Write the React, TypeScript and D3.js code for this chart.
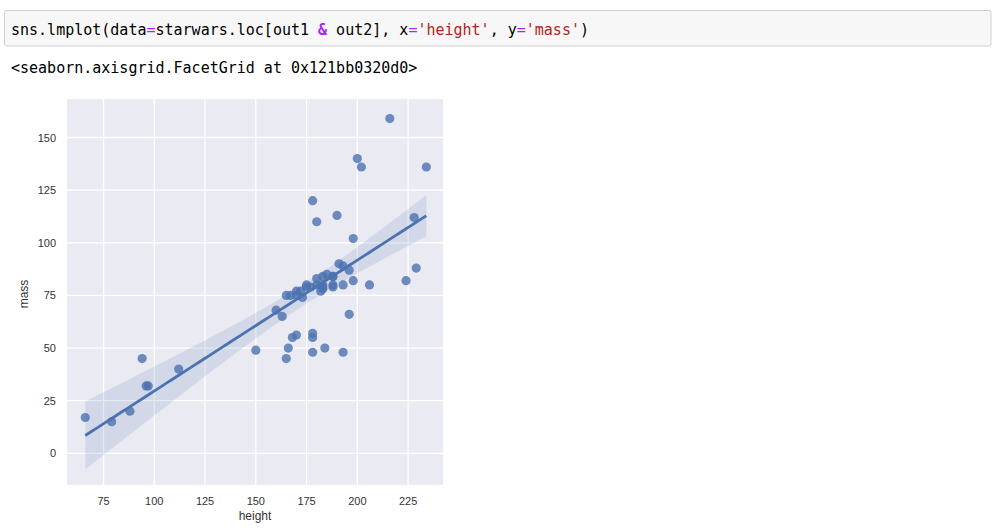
import React from "react";
import * as d3 from "d3";

// starwars height / mass (filtered)
const heights: number[] = [172,167,96,202,150,178,165,97,183,182,188,228,180,173,170,180,66,170,183,200,190,177,175,180,88,160,193,191,196,224,112,175,178,79,94,163,188,198,196,184,188,185,183,170,166,193,183,168,198,229,193,178,216,234,188,178,206,165];
const masses: number[] = [77,75,32,136,49,120,75,32,84,77,84,112,80,74,77,110,17,75,78.2,140,113,79,79,83,20,68,89,90,66,82,40,80,55,15,45,65,84,82,87,50,80,85,80,56.2,50,80,79,55,102,88,48,57,159,136,79,48,80,45];

const xTicks: number[] = [75, 100, 125, 150, 175, 200, 225];
const yTicks: number[] = [0, 25, 50, 75, 100, 125, 150];

const codeParts: { t: string; c: string }[] = [
  { t: "sns.lmplot(data", c: "#000" },
  { t: "=", c: "#aa22ff" },
  { t: "starwars.loc[out1 ", c: "#000" },
  { t: "&", c: "#aa22ff" },
  { t: " out2], x", c: "#000" },
  { t: "=", c: "#aa22ff" },
  { t: "'height'", c: "#ba2121" },
  { t: ", y", c: "#000" },
  { t: "=", c: "#aa22ff" },
  { t: "'mass'", c: "#ba2121" },
  { t: ")", c: "#000" },
];
const outText = "<seaborn.axisgrid.FacetGrid at 0x121bb0320d0>";

const BLUE = "#4c72b0";

function regression(xs: number[], ys: number[]) {
  const n = xs.length;
  const mx = d3.mean(xs)!;
  const my = d3.mean(ys)!;
  let sxx = 0, sxy = 0;
  for (let i = 0; i < n; i++) {
    sxx += (xs[i] - mx) ** 2;
    sxy += (xs[i] - mx) * (ys[i] - my);
  }
  const b = sxy / sxx;
  const a = my - b * mx;
  let sse = 0;
  for (let i = 0; i < n; i++) sse += (ys[i] - a - b * xs[i]) ** 2;
  const s = Math.sqrt(sse / (n - 2));
  const t = 2.003;
  const [x0, x1] = d3.extent(xs) as [number, number];
  const grid = d3.range(100).map((i) => x0 + ((x1 - x0) * i) / 99);
  return grid.map((x) => {
    const y = a + b * x;
    const h = t * s * Math.sqrt(1 / n + (x - mx) ** 2 / sxx);
    return { x, y, lo: y - h, hi: y + h };
  });
}

export default function App() {
  const left = 67, right = 443, top = 99, bottom = 485;
  const x = d3.scaleLinear().domain([57.0, 242.2]).range([left, right]);
  const y = d3.scaleLinear().domain([-15.06, 168.3]).range([bottom, top]);
  const fit = regression(heights, masses);
  const line = d3.line<any>().x((d) => x(d.x)).y((d) => y(d.y));
  const area = d3.area<any>().x((d) => x(d.x)).y0((d) => y(d.lo)).y1((d) => y(d.hi));
  const mono = "'DejaVu Sans Mono', monospace";
  const sans = "'Liberation Sans', Arial, sans-serif";

  return (
    <svg width={1000} height={528} style={{ position: "absolute", left: 0, top: 0, background: "#fff" }}>
      <rect x={0} y={0} width={1000} height={528} fill="#fff" />
      {/* code cell */}
      <rect x={4.5} y={10.5} width={986.5} height={35.5} rx={2} fill="#f7f7f7" stroke="#cfcfcf" strokeWidth={1} />
      <text x={11} y={35} fontFamily={mono} fontSize={15} style={{ whiteSpace: "pre" }}>
        {codeParts.map((p, i) => (
          <tspan key={i} fill={p.c} fontWeight={p.t === "&" ? "bold" : "normal"}>{p.t}</tspan>
        ))}
      </text>
      <text x={11} y={72.5} fontFamily={mono} fontSize={15} fill="#000" style={{ whiteSpace: "pre" }}>{outText}</text>

      {/* axes */}
      <defs>
        <clipPath id="plotclip">
          <rect x={left} y={top} width={right - left} height={bottom - top} />
        </clipPath>
      </defs>
      <rect x={left} y={top} width={right - left} height={bottom - top} fill="#eaeaf2" />
      {xTicks.map((t) => (
        <line key={"gx" + t} x1={x(t)} x2={x(t)} y1={top} y2={bottom} stroke="#fff" strokeWidth={1.3} />
      ))}
      {yTicks.map((t) => (
        <line key={"gy" + t} x1={left} x2={right} y1={y(t)} y2={y(t)} stroke="#fff" strokeWidth={1.3} />
      ))}
      <g clipPath="url(#plotclip)">
        {heights.map((h, i) => (
          <circle key={i} cx={x(h)} cy={y(masses[i])} r={4.6} fill={BLUE} fillOpacity={0.8} />
        ))}
        <path d={area(fit) || ""} fill={BLUE} fillOpacity={0.15} />
        <path d={line(fit) || ""} fill="none" stroke={BLUE} strokeWidth={2.8} />
      </g>
      {xTicks.map((t) => (
        <text key={"tx" + t} x={x(t)} y={504.5} textAnchor="middle" fontFamily={sans} fontSize={11} fill="#333">{t}</text>
      ))}
      {yTicks.map((t) => (
        <text key={"ty" + t} x={56} y={y(t) + 4} textAnchor="end" fontFamily={sans} fontSize={11} fill="#333">{t}</text>
      ))}
      <text x={(left + right) / 2} y={520} textAnchor="middle" fontFamily={sans} fontSize={12} fill="#333">height</text>
      <text transform={`translate(28,294) rotate(-90)`} textAnchor="middle" fontFamily={sans} fontSize={12} fill="#333">mass</text>
    </svg>
  );
}
